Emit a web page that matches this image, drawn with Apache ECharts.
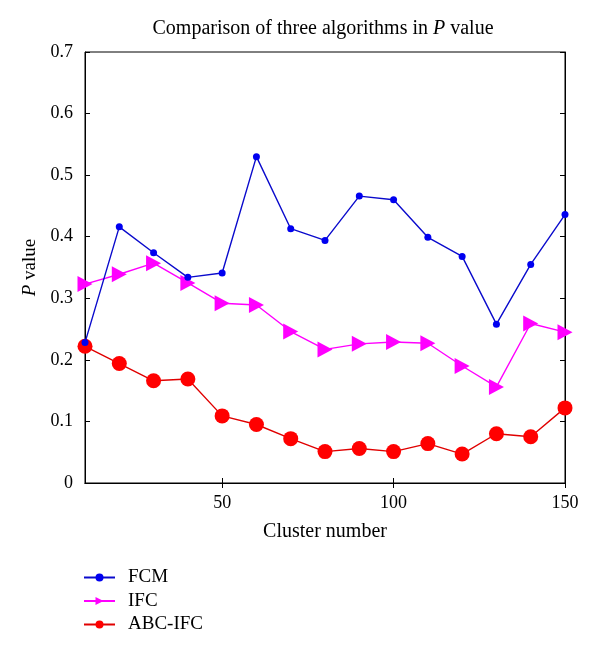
<!DOCTYPE html>
<html>
<head>
<meta charset="utf-8">
<script src="https://cdn.jsdelivr.net/npm/echarts@6/dist/echarts.min.js"></script>
<style>html,body{margin:0;padding:0;background:#fff;}#c{width:600px;height:656px;}</style>
</head>
<body>
<div id="c"></div>
<script>
var clusters = [10, 20, 30, 40, 50, 60, 70, 80, 90, 100, 110, 120, 130, 140, 150];
var fcm = [0.228, 0.416, 0.374, 0.334, 0.341, 0.530, 0.413, 0.394, 0.466, 0.460, 0.399, 0.368, 0.258, 0.355, 0.436];
var ifc = [0.323, 0.339, 0.357, 0.325, 0.292, 0.289, 0.246, 0.217, 0.226, 0.229, 0.227, 0.190, 0.156, 0.259, 0.245];
var abcIfc = [0.222, 0.194, 0.166, 0.169, 0.109, 0.095, 0.072, 0.051, 0.056, 0.051, 0.064, 0.047, 0.080, 0.075, 0.122];
var xTicks = [50, 100, 150];
var seriesNames = ['FCM', 'IFC', 'ABC-IFC'];

var FONT = '"Liberation Serif", "DejaVu Serif", serif';
function pairs(ys) { return clusters.map(function (x, i) { return [x, ys[i]]; }); }

var chart = echarts.init(document.getElementById('c'));
var tickStyle = { show: true, inside: true, length: 5, lineStyle: { color: '#000', width: 1 } };
chart.setOption({
  animation: false,
  textStyle: { fontFamily: FONT },
  graphic: [{
    type: 'text', x: 323, y: 29,
    style: {
      text: 'Comparison of three algorithms in {i|P} value',
      fontFamily: FONT, fontSize: 20, fill: '#000',
      align: 'center', verticalAlign: 'middle',
      rich: { i: { fontStyle: 'italic', fontFamily: FONT, fontSize: 20 } }
    }
  }],
  grid: { left: 85, right: 35, top: 52, bottom: 173, show: true, borderColor: '#000', borderWidth: 1 },
  legend: {
    orient: 'vertical', left: 78, top: 563,
    itemWidth: 31, itemHeight: 10, itemGap: 4.5,
    textStyle: { fontFamily: FONT, fontSize: 19, color: '#000', padding: [0, 0, 0, 8] },
    data: seriesNames
  },
  xAxis: [{
    type: 'value', min: 10, max: 150,
    name: 'Cluster number', nameLocation: 'middle', nameGap: 39,
    nameTextStyle: { fontFamily: FONT, fontSize: 20, color: '#000' },
    axisLine: { show: true, lineStyle: { color: '#000' } },
    axisTick: Object.assign({ customValues: xTicks }, tickStyle),
    axisLabel: { customValues: xTicks, fontFamily: FONT, fontSize: 18, color: '#000', margin: 11 },
    splitLine: { show: false }
  }, {
    type: 'value', min: 10, max: 150, position: 'top',
    axisLine: { show: true, lineStyle: { color: '#000' } },
    axisTick: Object.assign({ customValues: xTicks }, tickStyle),
    axisLabel: { show: false },
    splitLine: { show: false }
  }],
  yAxis: [{
    type: 'value', min: 0, max: 0.7, interval: 0.1,
    name: '{i|P} value', nameLocation: 'middle', nameGap: 44, nameRotate: 90,
    nameTextStyle: { fontFamily: FONT, fontSize: 19, color: '#000',
      rich: { i: { fontStyle: 'italic', fontFamily: FONT, fontSize: 19 } } },
    axisLine: { show: true, lineStyle: { color: '#000' } },
    axisTick: tickStyle,
    axisLabel: { fontFamily: FONT, fontSize: 18, color: '#000', margin: 12 },
    splitLine: { show: false }
  }, {
    type: 'value', min: 0, max: 0.7, interval: 0.1, position: 'right',
    axisLine: { show: true, lineStyle: { color: '#000' } },
    axisTick: tickStyle,
    axisLabel: { show: false },
    splitLine: { show: false }
  }],
  series: [{
    name: 'FCM', type: 'line', data: pairs(fcm),
    symbol: 'circle', symbolSize: 7,
    itemStyle: { color: '#0000f0' },
    lineStyle: { color: '#0a0acc', width: 1.4 }, z: 3
  }, {
    name: 'IFC', type: 'line', data: pairs(ifc),
    symbol: 'triangle', symbolSize: [16, 15], symbolRotate: -90,
    itemStyle: { color: '#ff00ff' },
    lineStyle: { color: '#ff00ff', width: 1.4 }, z: 2
  }, {
    name: 'ABC-IFC', type: 'line', data: pairs(abcIfc),
    symbol: 'circle', symbolSize: 15,
    itemStyle: { color: '#ff0000' },
    lineStyle: { color: '#e00000', width: 1.4 }, z: 1
  }]
});
</script>
</body>
</html>
